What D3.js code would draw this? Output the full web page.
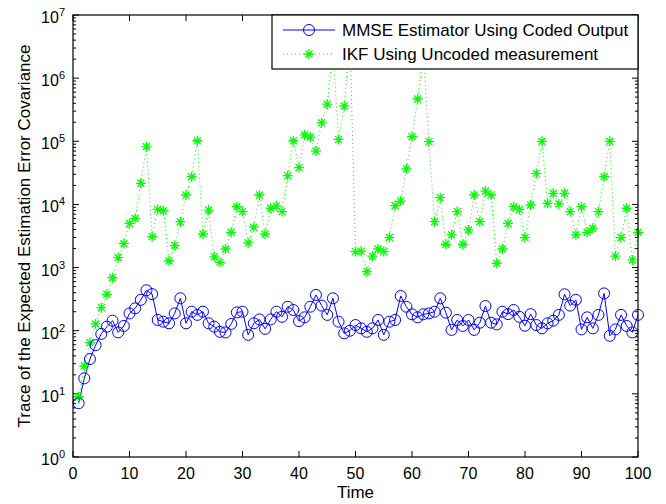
<!DOCTYPE html>
<html>
<head>
<meta charset="utf-8">
<script src="https://cdn.jsdelivr.net/npm/d3@7"></script>
<style>
  body { margin: 0; background: #fff; }
  text { font-family: "Liberation Sans", Arial, sans-serif; }
</style>
</head>
<body>
<div id="chart"></div>
<script>
var width = 666, height = 504;
var margin = { left: 73, right: 28, top: 15, bottom: 47 };

// time axis
var timeSteps = d3.range(1, 101);

// MMSE estimator using coded output (blue circles)
var mmseValues = [7.1, 17.6, 35.6, 59, 89, 116, 144, 94, 119, 188,
  226, 308, 437, 380, 148, 139, 131, 188, 326, 131,
  200, 178, 200, 131, 116, 96, 94, 128, 195, 200,
  86, 131, 151, 107, 151, 200, 166, 240, 213, 142,
  163, 240, 369, 250, 178, 326, 139, 91, 100, 123,
  109, 96, 109, 148, 86, 139, 148, 355, 240, 182,
  163, 182, 188, 200, 326, 193, 103, 148, 119, 148,
  103, 134, 246, 134, 126, 200, 183, 213, 166, 120,
  183, 123, 109, 131, 144, 178, 377, 250, 308, 105,
  163, 109, 178, 390, 83, 105, 178, 119, 94, 178];

// IKF using uncoded measurement (green stars)
var ikfValues = [9.0, 27.6, 65, 128, 232, 377, 690, 1440, 2410, 5000,
  6000, 21600, 81700, 3090, 8340, 7950, 1270, 2230, 5330, 14100,
  27500, 102000, 3400, 8150, 1480, 1210, 1970, 3620, 9200, 7700,
  2460, 4360, 14100, 3400, 8700, 9500, 7700, 28600, 102000, 38300,
  126000, 116000, 70000, 196000, 387000, 3000000, 107000, 363000, 5000000, 1790,
  1820, 860, 1520, 1970, 1790, 2990, 9540, 11300, 36600, 118000,
  467000, 2500000, 98700, 5330, 12800, 2340, 3300, 7700, 2340, 3940,
  14100, 5330, 16300, 14100, 1170, 1970, 5000, 9200, 8340, 2990,
  9800, 31000, 100000, 10400, 15000, 10200, 15000, 7700, 3300, 9200,
  3620, 4200, 7700, 27500, 100000, 1520, 2990, 8700, 1320, 3620];

var xTicks = d3.range(0, 101, 10);
var yExponents = [0, 1, 2, 3, 4, 5, 6, 7];
var seriesNames = ["MMSE Estimator Using Coded Output", "IKF Using Uncoded measurement"];

var w = width - margin.left - margin.right;
var h = height - margin.top - margin.bottom;

var svg = d3.select("#chart").append("svg")
  .attr("width", width).attr("height", height);

var g = svg.append("g")
  .attr("transform", "translate(" + margin.left + "," + margin.top + ")");

var x = d3.scaleLinear().domain([0, 100]).range([0, w]);
var y = d3.scaleLog().domain([1, 1e7]).range([h, 0]);

// ticks (inward, matlab style)
var ticks = g.append("g").attr("stroke", "#000").attr("stroke-width", 1);
xTicks.forEach(function (t) {
  ticks.append("line").attr("x1", x(t)).attr("x2", x(t)).attr("y1", h).attr("y2", h - 6);
  ticks.append("line").attr("x1", x(t)).attr("x2", x(t)).attr("y1", 0).attr("y2", 6);
});
yExponents.forEach(function (e) {
  var v = Math.pow(10, e);
  ticks.append("line").attr("x1", 0).attr("x2", 6).attr("y1", y(v)).attr("y2", y(v));
  ticks.append("line").attr("x1", w).attr("x2", w - 6).attr("y1", y(v)).attr("y2", y(v));
  if (e < 7) {
    for (var k = 2; k <= 9; k++) {
      var yy = y(k * v);
      ticks.append("line").attr("x1", 0).attr("x2", 3).attr("y1", yy).attr("y2", yy);
      ticks.append("line").attr("x1", w).attr("x2", w - 3).attr("y1", yy).attr("y2", yy);
    }
  }
});

// tick labels
g.selectAll(".xlab").data(xTicks).enter().append("text")
  .attr("x", function (d) { return x(d); })
  .attr("y", h + 22)
  .attr("text-anchor", "middle")
  .style("font-size", "16px")
  .text(function (d) { return d; });

var ylab = g.selectAll(".ylab").data(yExponents).enter().append("text")
  .attr("x", -8)
  .attr("y", function (d) { return y(Math.pow(10, d)) + 8; })
  .attr("text-anchor", "end")
  .style("font-size", "16px");
ylab.append("tspan").text("10");
ylab.append("tspan").attr("dy", -7).style("font-size", "11px").text(function (d) { return d; });

// lines
var line = d3.line()
  .x(function (d, i) { return x(timeSteps[i]); })
  .y(function (d) { return y(d); });

g.append("path").datum(ikfValues)
  .attr("d", line).attr("fill", "none")
  .attr("stroke", "#00ff00").attr("stroke-width", 1)
  .attr("stroke-dasharray", "1,3");

g.append("path").datum(mmseValues)
  .attr("d", line).attr("fill", "none")
  .attr("stroke", "#0000ff").attr("stroke-width", 1);

function star(sel, cx, cy) {
  var s = 5, d = 3.5;
  sel.append("path")
    .attr("d", "M" + (cx - s) + "," + cy + "H" + (cx + s) +
      "M" + cx + "," + (cy - s) + "V" + (cy + s) +
      "M" + (cx - d) + "," + (cy - d) + "L" + (cx + d) + "," + (cy + d) +
      "M" + (cx - d) + "," + (cy + d) + "L" + (cx + d) + "," + (cy - d))
    .attr("stroke", "#00ff00").attr("stroke-width", 1.3).attr("fill", "none");
}

var stars = g.append("g");
ikfValues.forEach(function (v, i) { star(stars, x(timeSteps[i]), y(v)); });

g.selectAll(".circ").data(mmseValues).enter().append("circle")
  .attr("cx", function (d, i) { return x(timeSteps[i]); })
  .attr("cy", function (d) { return y(d); })
  .attr("r", 5.5)
  .attr("fill", "none").attr("stroke", "#0000ff").attr("stroke-width", 1);

// box
g.append("rect").attr("width", w).attr("height", h)
  .attr("fill", "none").attr("stroke", "#000").attr("stroke-width", 1.2);

// legend
var lgW = 366;
var lg = g.append("g").attr("transform", "translate(" + (w - lgW) + ",0)");
lg.append("rect").attr("width", lgW).attr("height", 54)
  .attr("fill", "#fff").attr("stroke", "#000").attr("stroke-width", 1.2);
lg.append("line").attr("x1", 11).attr("x2", 63).attr("y1", 15).attr("y2", 15)
  .attr("stroke", "#0000ff");
lg.append("circle").attr("cx", 37).attr("cy", 15).attr("r", 5.5)
  .attr("fill", "none").attr("stroke", "#0000ff");
lg.append("line").attr("x1", 11).attr("x2", 63).attr("y1", 39).attr("y2", 39)
  .attr("stroke", "#00ff00").attr("stroke-dasharray", "1,3");
star(lg, 37, 39);
lg.selectAll(".lt").data(seriesNames).enter().append("text")
  .attr("x", 70)
  .attr("y", function (d, i) { return 21 + i * 24; })
  .style("font-size", "17px")
  .text(function (d) { return d; });

// axis titles
svg.append("text")
  .attr("x", margin.left + w / 2).attr("y", 498)
  .attr("text-anchor", "middle").style("font-size", "17px")
  .text("Time");
svg.append("text")
  .attr("transform", "translate(30," + (margin.top + h / 2) + ") rotate(-90)")
  .attr("text-anchor", "middle").style("font-size", "17px")
  .text("Trace of the Expected Estimation Error Covariance");
</script>
</body>
</html>
